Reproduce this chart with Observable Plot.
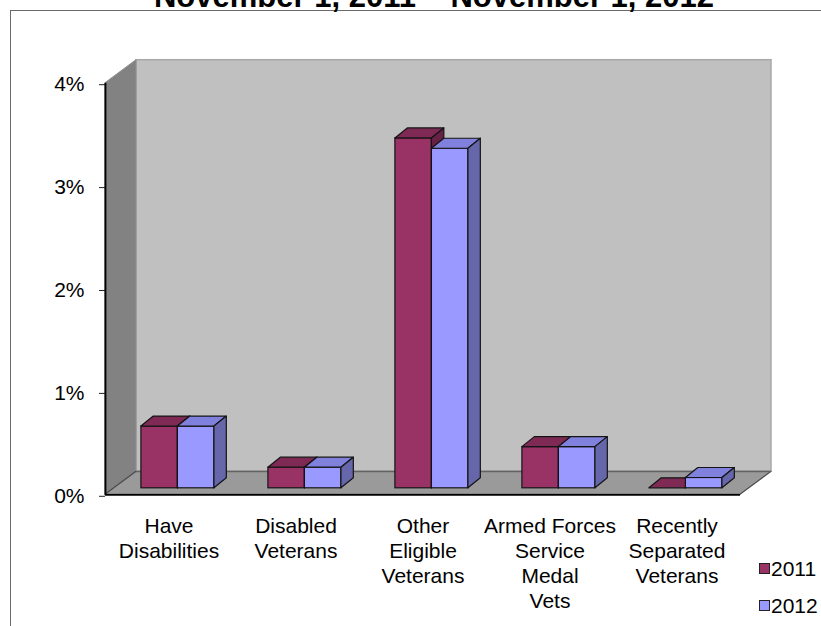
<!DOCTYPE html>
<html><head><meta charset="utf-8">
<script src="https://cdn.jsdelivr.net/npm/d3@7"></script>
<script src="https://cdn.jsdelivr.net/npm/@observablehq/plot@0.6"></script>
<style>
body{margin:0;background:#fff;font-family:"Liberation Sans",Arial,sans-serif;}
#wrap{position:relative;width:821px;height:626px;overflow:hidden;}
#frame{position:absolute;left:10px;top:10px;width:900px;height:700px;border:1px solid #6a6a6a;}
#chart{position:absolute;left:0;top:0;}
#title{position:absolute;left:0;width:868px;text-align:center;top:-19.5px;font-size:31px;line-height:31px;font-weight:bold;white-space:nowrap;color:#000;}
.sw{position:absolute;left:759px;width:9px;height:9px;border:1px solid #222;}
.lt{position:absolute;left:771px;font-size:21px;line-height:21px;color:#000;}
</style></head>
<body><div id="wrap">
<div id="frame"></div>
<div id="title">November 1, 2011 – November 1, 2012</div>
<div id="chart"></div>
<div id="legend"></div>
</div>
<script>
const categories = ["Have\nDisabilities","Disabled\nVeterans","Other\nEligible\nVeterans","Armed Forces\nService\nMedal\nVets","Recently\nSeparated\nVeterans"];
const years = ["2011","2012"];
const values2011 = [0.6, 0.2, 3.4, 0.4, 0.0];
const values2012 = [0.6, 0.2, 3.3, 0.4, 0.1];
const yTicks = [0, 1, 2, 3, 4];
const frontColors = ["#993366", "#9999ff"];
const topColors = ["#7f2a55", "#8080dd"];
const sideColors = ["#662244", "#6666aa"];

// layout constants (pixels -> data units)
const pxX = 127, pxY = 102.9;
const wallDX = 31 / pxX, wallDY = 23 / pxY;
const barDX = 12.4 / pxX, barDY = 10 / pxY;
const barStart = [0.2, 0.4875], barW = 0.2875;

const series = [values2011, values2012].map((vals, s) => vals.map((v, i) => {
  const x1 = i - 0.5 + barStart[s];
  return {id: s + "-" + i, s, i, v, x1, x2: x1 + barW};
}));
const topPts = series.map(b => b.flatMap(d => [
  {id: d.id, y: d.v, x1: d.x1, x2: d.x2},
  {id: d.id, y: d.v + barDY, x1: d.x1 + barDX, x2: d.x2 + barDX}
]));
const sidePts = series.map(b => b.flatMap(d => [
  {id: d.id, x: d.x2, y1: 0, y2: d.v},
  {id: d.id, x: d.x2 + barDX, y1: barDY, y2: d.v + barDY}
]));

const n = categories.length;
const floorPts = [{y: 0, x1: -0.5, x2: n - 0.5}, {y: wallDY, x1: -0.5 + wallDX, x2: n - 0.5 + wallDX}];
const leftPts = [{x: -0.5, y1: 0, y2: 4}, {x: -0.5 + wallDX, y1: wallDY, y2: 4 + wallDY}];

const barMarks = [];
for (let s = 0; s < 2; s++) {
  barMarks.push(
    Plot.rect(series[s], {x1: "x1", x2: "x2", y1: 0, y2: "v", dx: 10.5, dy: -6.5, fill: frontColors[s], stroke: "#141414", strokeWidth: 1.2}),
    Plot.areaX(topPts[s], {y: "y", x1: "x1", x2: "x2", z: "id", dx: 10.5, dy: -6.5, fill: topColors[s], stroke: "#141414", strokeWidth: 1.2, strokeLinejoin: "round"}),
    Plot.areaY(sidePts[s], {x: "x", y1: "y1", y2: "y2", z: "id", dx: 10.5, dy: -6.5, fill: sideColors[s], stroke: "#141414", strokeWidth: 1.2, strokeLinejoin: "round"})
  );
}

const chart = Plot.plot({
  width: 821, height: 626,
  marginLeft: 105, marginRight: 81, marginTop: 82.7, marginBottom: 131.7,
  style: {fontSize: "21px", fontFamily: "'Liberation Sans', Arial, sans-serif", color: "#000", background: "transparent", overflow: "visible"},
  x: {type: "linear", domain: [-0.5, n - 0.5], axis: null},
  y: {domain: [0, 4], axis: null},
  marks: [
    Plot.rect([0], {x1: -0.5, x2: n - 0.5, y1: 0, y2: 4, dx: wallDX * pxX, dy: -wallDY * pxY, fill: "#c0c0c0", stroke: "#a8a8a8", strokeWidth: 1.5}),
    Plot.areaY(leftPts, {x: "x", y1: "y1", y2: "y2", fill: "#828282", stroke: "#8e8e8e", strokeWidth: 1}),
    Plot.areaX(floorPts, {y: "y", x1: "x1", x2: "x2", fill: "#9a9a9a", stroke: "#4a4a4a", strokeWidth: 1.2}),
    Plot.ruleY([wallDY], {x1: -0.5 + wallDX, x2: n - 0.5 + wallDX, stroke: "#6e6e6e", strokeWidth: 1}),
    Plot.axisY({ticks: yTicks, tickFormat: d => d + "%", tickSize: 6, tickPadding: 15, dy: 1.5, fontSize: 21, stroke: "#222"}),
    Plot.ruleX([-0.5], {y1: 0, y2: 4, stroke: "#000", strokeWidth: 1.8}),
    Plot.ruleY([0], {x1: -0.5, x2: n - 0.5, stroke: "#000", strokeWidth: 1.8}),
    ...barMarks,
    Plot.text(categories.map((c, i) => ({i, c})), {x: "i", text: "c", frameAnchor: "bottom", lineAnchor: "top", dy: 20.8, lineHeight: 1.19, fontSize: 21, fill: "#000"})
  ]
});
document.getElementById("chart").appendChild(chart);

const legend = document.getElementById("legend");
const swTops = [563, 600], textTops = [558.2, 595];
years.forEach((y, s) => {
  const sw = document.createElement("div");
  sw.className = "sw"; sw.style.top = swTops[s] + "px"; sw.style.background = frontColors[s];
  const t = document.createElement("div");
  t.className = "lt"; t.style.top = textTops[s] + "px"; t.textContent = y;
  legend.appendChild(sw); legend.appendChild(t);
});
</script>
</body></html>
